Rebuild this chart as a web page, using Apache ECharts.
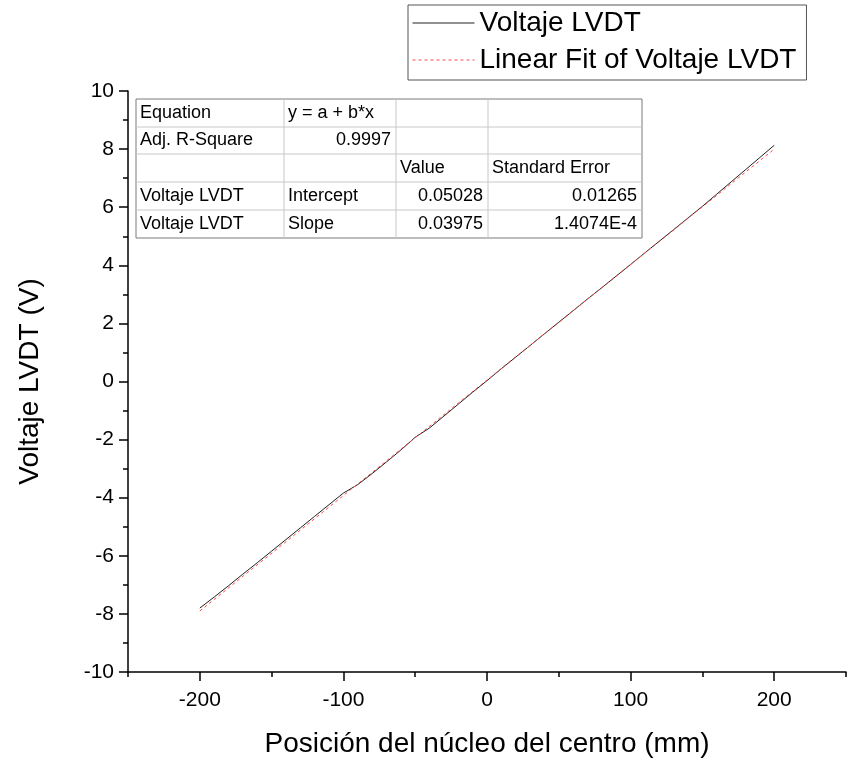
<!DOCTYPE html>
<html>
<head>
<meta charset="utf-8">
<script src="https://cdn.jsdelivr.net/npm/echarts@6/dist/echarts.min.js"></script>
<style>
  html, body { margin: 0; background: #fff; }
  #chart { width: 849px; height: 771px; }
</style>
</head>
<body>
<div id="chart"></div>
<script>
// core position (mm) and measured LVDT voltage (V)
const positions = [
  -200, -190, -180, -170, -160, -150, -140, -130, -120, -110,
  -100, -90, -80, -70, -60, -50, -40, -30, -20, -10,
  0, 10, 20, 30, 40, 50, 60, 70, 80, 90,
  100, 110, 120, 130, 140, 150, 160, 170, 180, 190, 200
];
const voltage = [
  -7.80, -7.42, -7.03, -6.63, -6.24, -5.84, -5.44, -5.04, -4.64, -4.24,
  -3.84, -3.55, -3.17, -2.77, -2.36, -1.92, -1.60, -1.19, -0.78, -0.37,
  0.03, 0.44, 0.84, 1.24, 1.64, 2.04, 2.44, 2.84, 3.23, 3.63,
  4.03, 4.43, 4.83, 5.23, 5.63, 6.03, 6.45, 6.87, 7.29, 7.71, 8.13
];
// linear fit end points
const fitX = [-200, 200];
const fitY = [-7.90, 8.00];

const tableRows = [
  ["Equation", "y = a + b*x", "", ""],
  ["Adj. R-Square", "0.9997", "", ""],
  ["", "", "Value", "Standard Error"],
  ["Voltaje LVDT", "Intercept", "0.05028", "0.01265"],
  ["Voltaje LVDT", "Slope", "0.03975", "1.4074E-4"]
];

const FONT = "'Liberation Sans', Arial, sans-serif";

// table layout (pixels)
const colEdges = [136, 284, 396, 488, 642];
const rowEdges = [99, 127, 154, 182, 210, 238];

function buildTable() {
  const els = [];
  els.push({
    type: "rect",
    shape: { x: colEdges[0], y: rowEdges[0], width: colEdges[4] - colEdges[0], height: rowEdges[5] - rowEdges[0] },
    style: { fill: "#fff", stroke: "#7a7a7a", lineWidth: 1 },
    z: 10
  });
  for (let i = 1; i < rowEdges.length - 1; i++) {
    els.push({
      type: "line",
      shape: { x1: colEdges[0], y1: rowEdges[i], x2: colEdges[4], y2: rowEdges[i] },
      style: { stroke: "#c8c8c8", lineWidth: 1 },
      z: 11
    });
  }
  for (let j = 1; j < colEdges.length - 1; j++) {
    els.push({
      type: "line",
      shape: { x1: colEdges[j], y1: rowEdges[0], x2: colEdges[j], y2: rowEdges[5] },
      style: { stroke: "#c8c8c8", lineWidth: 1 },
      z: 11
    });
  }
  tableRows.forEach((row, r) => {
    row.forEach((cell, c) => {
      if (!cell) return;
      const numeric = /^[0-9.E-]+$/.test(cell);
      els.push({
        type: "text",
        x: numeric ? colEdges[c + 1] - 5 : colEdges[c] + 4,
        y: (rowEdges[r] + rowEdges[r + 1]) / 2,
        style: {
          text: cell,
          fill: "#000",
          font: "18px " + FONT,
          align: numeric ? "right" : "left",
          verticalAlign: "middle"
        },
        z: 12
      });
    });
  });
  return els;
}

const chart = echarts.init(document.getElementById("chart"));

chart.setOption({
  backgroundColor: "#fff",
  animation: false,
  textStyle: { fontFamily: FONT, color: "#000" },
  legend: {
    orient: "vertical",
    left: 408,
    top: 5,
    padding: [4, 10, 6, 4],
    itemWidth: 62,
    itemHeight: 14,
    itemGap: 9,
    borderColor: "#555",
    borderWidth: 1,
    itemStyle: { opacity: 0 },
    lineStyle: { width: 1 },
    textStyle: { fontSize: 28, color: "#000", fontFamily: FONT },
    data: ["Voltaje LVDT", "Linear Fit of Voltaje LVDT"]
  },
  grid: { left: 128, right: 3, top: 91, bottom: 99 },
  xAxis: [
    {
      type: "value",
      min: -250,
      max: 250,
      interval: 50,
      name: "Posición del núcleo del centro (mm)",
      nameLocation: "middle",
      nameGap: 58,
      nameTextStyle: { fontSize: 28, color: "#000", fontFamily: FONT },
      axisLine: { onZero: false, lineStyle: { color: "#000", width: 1.5 } },
      axisTick: { show: false },
      axisLabel: {
        color: "#000",
        fontSize: 21,
        margin: 18,
        formatter: v => (v % 100 === 0 && Math.abs(v) < 250 ? String(v) : "")
      },
      splitLine: { show: false }
    },
    {
      // tick marks only: majors every 100 from -200, minors at the 50s
      type: "value",
      position: "bottom",
      min: -250,
      max: 250,
      interval: 100,
      axisLine: { show: false, onZero: false },
      axisLabel: { show: false },
      axisTick: { show: true, length: 5, lineStyle: { color: "#000", width: 1.5 } },
      minorTick: { show: true, splitNumber: 2, length: 9, lineStyle: { color: "#000", width: 1.5 } },
      splitLine: { show: false }
    }
  ],
  yAxis: {
    type: "value",
    min: -10,
    max: 10,
    interval: 2,
    name: "Voltaje LVDT (V)",
    nameLocation: "middle",
    nameGap: 84,
    nameTextStyle: { fontSize: 28, color: "#000", fontFamily: FONT },
    axisLine: { onZero: false, lineStyle: { color: "#000", width: 1.5 } },
    axisTick: { show: true, length: 9, lineStyle: { color: "#000", width: 1.5 } },
    minorTick: { show: true, splitNumber: 2, length: 5, lineStyle: { color: "#000", width: 1.5 } },
    axisLabel: { color: "#000", fontSize: 21, margin: 14 },
    splitLine: { show: false }
  },
  series: [
    {
      name: "Voltaje LVDT",
      type: "line",
      data: positions.map((x, i) => [x, voltage[i]]),
      symbol: "none",
      color: "#222",
      lineStyle: { color: "#222", width: 1 },
      z: 2
    },
    {
      name: "Linear Fit of Voltaje LVDT",
      type: "line",
      data: fitX.map((x, i) => [x, fitY[i]]),
      symbol: "none",
      color: "#ff4a4a",
      lineStyle: { color: "#ff4a4a", width: 1, type: [3, 3] },
      z: 3
    }
  ],
  graphic: buildTable()
});
</script>
</body>
</html>
